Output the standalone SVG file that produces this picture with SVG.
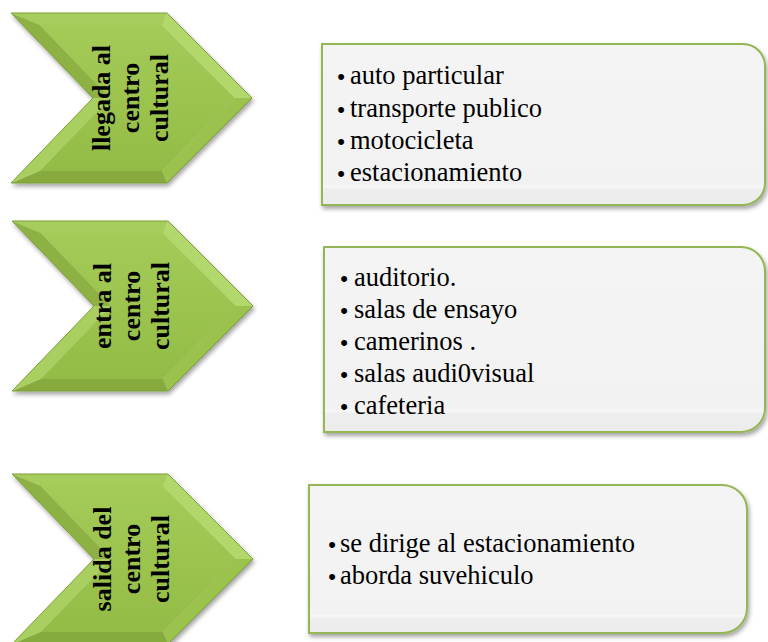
<svg xmlns="http://www.w3.org/2000/svg" xmlns:xlink="http://www.w3.org/1999/xlink" width="768" height="642" viewBox="0 0 768 642">
<style>
.lbl{font-family:"Liberation Serif","Times New Roman",serif;font-weight:bold;font-size:26px;fill:#000;}
.itm{font-family:"Liberation Serif","Times New Roman",serif;font-size:26.5px;fill:#000;}
.bul{font-family:"Liberation Sans",Arial,sans-serif;font-size:22px;fill:#000;}
.box{fill:url(#boxFill);stroke:#94b654;stroke-width:2;}
</style>
<defs>
<linearGradient id="faceG" x1="0" y1="0" x2="0" y2="1">
<stop offset="0" stop-color="#a4cb57"/>
<stop offset="1" stop-color="#93bc46"/>
</linearGradient>
<linearGradient id="boxFill" x1="0" y1="0" x2="0" y2="1">
<stop offset="0" stop-color="#f4f4f4"/>
<stop offset="0.87" stop-color="#f2f2f2"/>
<stop offset="0.885" stop-color="#f8f8f8"/>
<stop offset="0.9" stop-color="#eeeeee"/>
<stop offset="1" stop-color="#ececec"/>
</linearGradient>
<filter id="shadow" x="-10%" y="-10%" width="125%" height="130%">
<feDropShadow dx="1.5" dy="3" stdDeviation="2" flood-color="#000" flood-opacity="0.35"/>
</filter>
<g id="chev">
<polygon points="39.6,25 162,25 235,98 162,171 39.6,171 110,98" fill="url(#faceG)"/>
<polygon points="11,13 167,13 162,25 39.6,25" fill="#a6cc5b"/>
<polygon points="167,13 252,98 235,98 162,25" fill="#b2d76a"/>
<polygon points="252,98 167,183 162,171 235,98" fill="#9bc24e"/>
<polygon points="167,183 11,183 39.6,171 162,171" fill="#86aa3e"/>
<polygon points="11,183 93,98 110,98 39.6,171" fill="#a8cf5e"/>
<polygon points="93,98 11,13 39.6,25 110,98" fill="#8db142"/>
<polygon points="11,13 167,13 252,98 167,183 11,183 93,98" fill="none" stroke="#7e9f38" stroke-width="1"/>
</g>
</defs>

<g id="connectors"></g>

<g id="step1">
<use xlink:href="#chev" href="#chev" filter="url(#shadow)"/>
<text class="lbl" text-anchor="middle" transform="translate(110,98) rotate(-90)">llegada al</text>
<text class="lbl" text-anchor="middle" transform="translate(139,98) rotate(-90)">centro</text>
<text class="lbl" text-anchor="middle" transform="translate(168,98) rotate(-90)">cultural</text>
</g>

<g id="step2">
<use xlink:href="#chev" href="#chev" transform="translate(1,208)" filter="url(#shadow)"/>
<text class="lbl" text-anchor="middle" transform="translate(111,306) rotate(-90)">entra al</text>
<text class="lbl" text-anchor="middle" transform="translate(140,306) rotate(-90)">centro</text>
<text class="lbl" text-anchor="middle" transform="translate(169,306) rotate(-90)">cultural</text>
</g>

<g id="step3">
<use xlink:href="#chev" href="#chev" transform="translate(1,461)" filter="url(#shadow)"/>
<text class="lbl" text-anchor="middle" transform="translate(111,559) rotate(-90)">salida del</text>
<text class="lbl" text-anchor="middle" transform="translate(140,559) rotate(-90)">centro</text>
<text class="lbl" text-anchor="middle" transform="translate(169,559) rotate(-90)">cultural</text>
</g>

<g id="list1">
<path class="box" filter="url(#shadow)" d="M322,44 H743 A22,22 0 0 1 765,66 V183 A22,22 0 0 1 743,205 H322 Z"/>
<text class="bul" x="341" y="84" text-anchor="middle">•</text>
<text class="itm" x="350" y="84">auto particular</text>
<text class="bul" x="341" y="117" text-anchor="middle">•</text>
<text class="itm" x="350" y="117">transporte publico</text>
<text class="bul" x="341" y="149" text-anchor="middle">•</text>
<text class="itm" x="350" y="149">motocicleta</text>
<text class="bul" x="341" y="181" text-anchor="middle">•</text>
<text class="itm" x="350" y="181">estacionamiento</text>
</g>

<g id="list2">
<path class="box" filter="url(#shadow)" d="M324,247 H741 A24,24 0 0 1 765,271 V408 A24,24 0 0 1 741,432 H324 Z"/>
<text class="bul" x="344" y="286" text-anchor="middle">•</text>
<text class="itm" x="354" y="286">auditorio.</text>
<text class="bul" x="344" y="318" text-anchor="middle">•</text>
<text class="itm" x="354" y="318">salas de ensayo</text>
<text class="bul" x="344" y="350" text-anchor="middle">•</text>
<text class="itm" x="354" y="350">camerinos .</text>
<text class="bul" x="344" y="382" text-anchor="middle">•</text>
<text class="itm" x="354" y="382">salas audi0visual</text>
<text class="bul" x="344" y="414" text-anchor="middle">•</text>
<text class="itm" x="354" y="414">cafeteria</text>
</g>

<g id="list3">
<path class="box" filter="url(#shadow)" d="M309,485 H722 A25,25 0 0 1 747,510 V608 A25,25 0 0 1 722,633 H309 Z"/>
<text class="bul" x="332" y="552" text-anchor="middle">•</text>
<text class="itm" x="340" y="552">se dirige al estacionamiento</text>
<text class="bul" x="332" y="584" text-anchor="middle">•</text>
<text class="itm" x="340" y="584">aborda suvehiculo</text>
</g>
</svg>
